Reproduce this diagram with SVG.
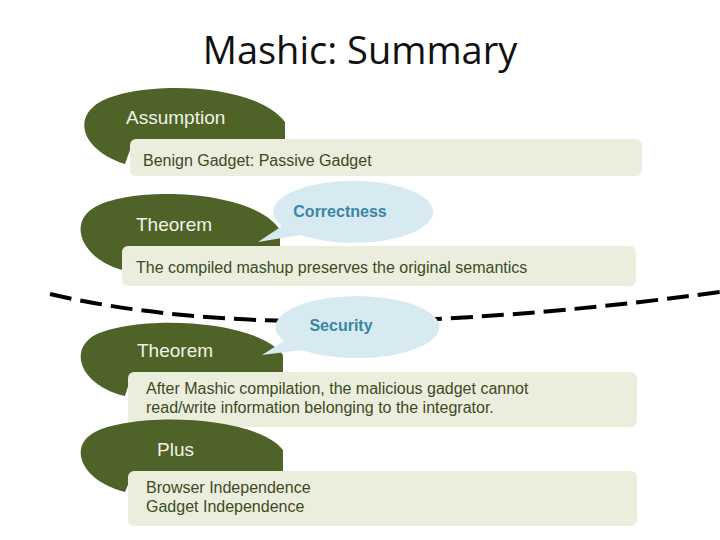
<svg xmlns="http://www.w3.org/2000/svg" width="720" height="540" viewBox="0 0 720 540">
<style>
.blob{fill:#4f6228}
.box{fill:#ebeedd}
.bub{fill:#d7eaf1}
.h{font-family:"Liberation Sans",Arial,sans-serif;font-size:19px;fill:#f2f2e6}
.t{font-family:"Liberation Sans",Arial,sans-serif;font-size:16px;fill:#3d4a1e}
.b{font-family:"Liberation Sans",Arial,sans-serif;font-size:16px;font-weight:bold;fill:#3a86a4}
</style>
<rect width="720" height="540" fill="#fff"/>
<text x="360" y="64" text-anchor="middle" font-family="Open Sans,sans-serif" font-size="38" fill="#111">Mashic: Summary</text>
<g id="connectors">
<path d="M50,294 Q290,350 720,292" fill="none" stroke="#000" stroke-width="4" stroke-dasharray="22,9"/>
</g>
<g id="assumption">
<path class="blob" d="M125,164 C82,150 72,118 100,102 C140,80 255,82 285,122 L285,150 L130,150 Z"/>
<text class="h" x="126" y="124">Assumption</text>
<rect class="box" x="130" y="139" width="512" height="37" rx="6"/>
<text class="t" x="143" y="166">Benign Gadget: Passive Gadget</text>
</g>
<g id="theorem1">
<path class="blob" d="M122,270 C80,258 68,222 95,207 C135,185 255,190 280,230 L280,255 L125,255 Z"/>
<text class="h" x="136" y="231">Theorem</text>
<rect class="box" x="122" y="246" width="514" height="40" rx="6"/>
<text class="t" x="136" y="273">The compiled mashup preserves the original semantics</text>
</g>
<g id="correctness">
<path class="bub" d="M258,242 L282,226 A80,31 0 1 1 300,235 Z"/>
<text class="b" x="340" y="217" text-anchor="middle">Correctness</text>
</g>
<g id="security">
<path class="blob" d="M125,396 C80,385 68,350 95,335 C135,315 255,318 283,355 L283,380 L130,380 Z"/>
<text class="h" x="137" y="357">Theorem</text>
<path class="bub" d="M262,355 L284,341 A82,31 0 1 1 302,350 Z"/>
<text class="b" x="341" y="331" text-anchor="middle">Security</text>
<rect class="box" x="128" y="372" width="509" height="55" rx="6"/>
<text class="t" x="146" y="394">After Mashic compilation, the malicious gadget cannot</text>
<text class="t" x="146" y="413">read/write information belonging to the integrator.</text>
</g>
<g id="plus">
<path class="blob" d="M125,492 C80,480 68,446 95,432 C135,412 255,415 283,450 L283,480 L130,480 Z"/>
<text class="h" x="157" y="456">Plus</text>
<rect class="box" x="128" y="471" width="509" height="55" rx="6"/>
<text class="t" x="146" y="493">Browser Independence</text>
<text class="t" x="146" y="512">Gadget Independence</text>
</g>
</svg>
